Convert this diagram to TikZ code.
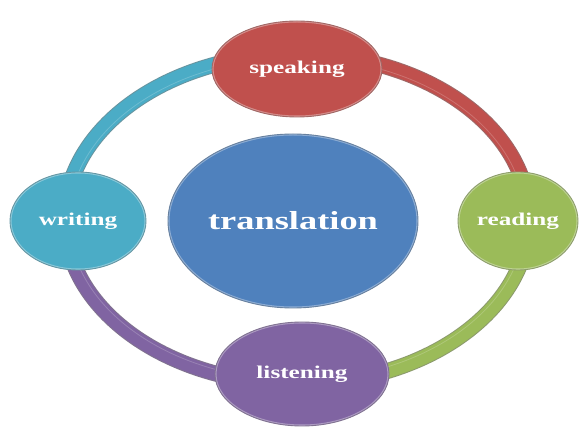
\documentclass[tikz,border=0pt]{standalone}
\usepackage{fontspec}
\setmainfont{Liberation Serif}
\usepackage{graphicx}
\usetikzlibrary{shapes.geometric,calc}
\definecolor{cRed}{HTML}{C0504D}
\definecolor{cGreen}{HTML}{9BBB59}
\definecolor{cCyan}{HTML}{4BACC6}
\definecolor{cPurple}{HTML}{8064A2}
\definecolor{cBlue}{HTML}{4F81BD}
\tikzset{
  bubble/.style={ellipse, inner sep=0pt, fill=#1, draw=#1!50!gray, line width=0.9pt,
    text=white, font=\bfseries\fontsize{18}{20}\selectfont,
    path picture={\draw[white, opacity=.35, line width=3pt]
      let \p1=(path picture bounding box.south west), \p2=(path picture bounding box.north east) in
      ($(\p1)!.5!(\p2)$) ellipse [x radius={(\x2-\x1)/2}, y radius={(\y2-\y1)/2}];}},
  ringarc/.style={draw=#1, line width=14pt, line cap=butt,
    preaction={draw=#1!45!gray, line width=16pt}},
  ringshine/.style={draw=#1!45!white, line width=0.8pt, opacity=.35},
}
\newcommand{\wide}[1]{\scalebox{1.4}[1]{#1}}
\begin{document}
\begin{tikzpicture}[x=1pt,y=1pt]
\useasboundingbox (0,0) rectangle (581,431);
% ring points
\coordinate (rT) at (297,377);
\coordinate (rR) at (529,212);
\coordinate (rB) at (297,47);
\coordinate (rL) at (65,212);
\coordinate (sT) at (297,373);
\coordinate (sR) at (525,212);
\coordinate (sB) at (297,51);
\coordinate (sL) at (69,212);
% ring arcs
\draw[ringarc=cRed] (rT) arc[start angle=90, end angle=0, x radius=232, y radius=165];
\draw[ringarc=cGreen] (rR) arc[start angle=0, end angle=-90, x radius=232, y radius=165];
\draw[ringarc=cPurple] (rB) arc[start angle=-90, end angle=-180, x radius=232, y radius=165];
\draw[ringarc=cCyan] (rL) arc[start angle=180, end angle=90, x radius=232, y radius=165];
\draw[ringshine=cRed] (sT) arc[start angle=90, end angle=0, x radius=228, y radius=161];
\draw[ringshine=cGreen] (sR) arc[start angle=0, end angle=-90, x radius=228, y radius=161];
\draw[ringshine=cPurple] (sB) arc[start angle=-90, end angle=-180, x radius=228, y radius=161];
\draw[ringshine=cCyan] (sL) arc[start angle=180, end angle=90, x radius=228, y radius=161];
% nodes
\node[bubble=cBlue, minimum width=250pt, minimum height=174pt,
  font=\bfseries\fontsize{26}{28}\selectfont] (translation) at (293,210) {\wide{translation}};
\node[bubble=cRed, minimum width=170pt, minimum height=96pt] (speaking) at (297,362) {\wide{speaking}};
\node[bubble=cGreen, minimum width=120pt, minimum height=98pt] (reading) at (518,210) {\wide{reading}};
\node[bubble=cCyan, minimum width=136pt, minimum height=98pt] (writing) at (78,210) {\wide{writing}};
\node[bubble=cPurple, minimum width=174pt, minimum height=104pt] (listening) at (302,57) {\wide{listening}};
\end{tikzpicture}
\end{document}
